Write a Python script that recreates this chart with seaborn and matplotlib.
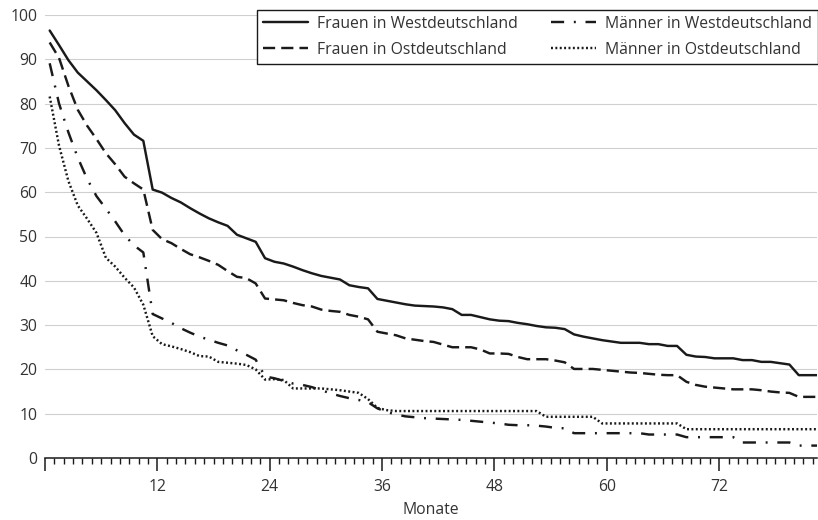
import numpy as np
import pandas as pd
import matplotlib
matplotlib.use("Agg")
import matplotlib.pyplot as plt
import seaborn as sns
from matplotlib.ticker import MultipleLocator, FuncFormatter

# Monatsindex (1..83); Werte gelten jeweils für die Monatsmitte
monate = list(range(1, 84))

gruppen = ["Frauen in Westdeutschland", "Frauen in Ostdeutschland",
           "Männer in Westdeutschland", "Männer in Ostdeutschland"]

frauen_west = [96.5, 93.2, 89.8, 87.0, 85.0, 83.0, 80.8, 78.5, 75.6, 73.0,
               71.6, 60.6, 59.9, 58.7, 57.7, 56.4, 55.2, 54.1, 53.2, 52.4,
               50.4, 49.6, 48.8, 45.1, 44.3, 43.9, 43.2, 42.4, 41.7, 41.1,
               40.7, 40.3, 39.0, 38.6, 38.3, 35.9, 35.5, 35.1, 34.7, 34.4,
               34.3, 34.2, 34.0, 33.6, 32.3, 32.3, 31.8, 31.3, 31.0, 30.9,
               30.5, 30.2, 29.8, 29.5, 29.4, 29.1, 27.9, 27.4, 27.0, 26.6,
               26.3, 26.0, 26.0, 26.0, 25.7, 25.7, 25.3, 25.3, 23.3, 22.9,
               22.8, 22.5, 22.5, 22.5, 22.1, 22.1, 21.7, 21.7, 21.4, 21.1,
               18.7, 18.7, 18.7]

frauen_ost = [93.8, 90.3, 84.0, 78.6, 75.0, 72.0, 68.8, 66.3, 63.5, 62.0,
              60.6, 51.5, 49.4, 48.5, 47.2, 46.0, 45.3, 44.5, 43.6, 42.2,
              40.9, 40.6, 39.4, 36.0, 35.8, 35.6, 35.0, 34.5, 34.2, 33.5,
              33.2, 33.0, 32.3, 31.9, 31.3, 28.5, 28.1, 27.7, 27.0, 26.7,
              26.4, 26.2, 25.6, 25.0, 25.0, 25.0, 24.5, 23.6, 23.6, 23.5,
              22.8, 22.3, 22.3, 22.3, 22.0, 21.6, 20.1, 20.1, 20.1, 19.9,
              19.7, 19.5, 19.3, 19.2, 19.0, 18.8, 18.7, 18.7, 17.2, 16.5,
              16.1, 15.9, 15.7, 15.5, 15.5, 15.5, 15.3, 15.0, 14.8, 14.7,
              13.8, 13.8, 13.8]

maenner_west = [89.1, 80.0, 73.5, 67.8, 63.0, 59.1, 56.3, 53.4, 50.3, 48.0,
                46.4, 32.5, 31.5, 30.5, 29.3, 28.3, 27.4, 26.7, 26.0, 25.4,
                24.3, 23.3, 22.2, 18.4, 18.0, 17.4, 16.8, 16.5, 16.0, 15.3,
                14.6, 14.0, 13.5, 13.1, 12.6, 11.2, 10.4, 9.8, 9.4, 9.2,
                9.0, 8.9, 8.8, 8.7, 8.6, 8.4, 8.2, 8.0, 7.8, 7.5,
                7.4, 7.4, 7.3, 7.1, 6.8, 6.7, 5.6, 5.6, 5.6, 5.6,
                5.6, 5.6, 5.6, 5.6, 5.3, 5.3, 5.3, 5.3, 4.7, 4.7,
                4.7, 4.7, 4.7, 4.7, 3.5, 3.5, 3.5, 3.5, 3.5, 3.5,
                2.8, 2.8, 2.8]

maenner_ost = [81.6, 70.5, 62.5, 57.0, 54.0, 50.8, 45.2, 43.2, 40.7, 38.5,
               34.6, 27.5, 25.7, 25.2, 24.6, 23.9, 23.0, 22.9, 21.7, 21.5,
               21.3, 21.0, 20.0, 17.7, 17.8, 17.6, 15.7, 15.7, 15.7, 15.7,
               15.5, 15.3, 15.0, 14.7, 13.3, 11.3, 10.8, 10.6, 10.6, 10.6,
               10.6, 10.6, 10.6, 10.6, 10.6, 10.6, 10.6, 10.6, 10.6, 10.6,
               10.6, 10.6, 10.6, 9.3, 9.3, 9.3, 9.3, 9.3, 9.3, 7.8,
               7.8, 7.8, 7.8, 7.8, 7.8, 7.8, 7.8, 7.8, 6.5, 6.5,
               6.5, 6.5, 6.5, 6.5, 6.5, 6.5, 6.5, 6.5, 6.5, 6.5,
               6.5, 6.5, 6.5]

x_ticks = [0, 12, 24, 36, 48, 60, 72]
y_ticks = [0, 10, 20, 30, 40, 50, 60, 70, 80, 90, 100]

sns.set_theme(style="white")
plt.rcParams['font.family'] = ['Open Sans', 'DejaVu Sans']
plt.rcParams['legend.fancybox'] = False

rows = []
for g, vals in zip(gruppen, [frauen_west, frauen_ost, maenner_west, maenner_ost]):
    for m, v in zip(monate, vals):
        rows.append({"Monat": m - 0.5, "Anteil": v, "Gruppe": g})
df = pd.DataFrame(rows)

W, H = 818, 520
fig = plt.figure(figsize=(W / 100, H / 100), dpi=100)
ax = fig.add_axes([45 / W, 1 - 458 / H, (817.5 - 45) / W, (458 - 15) / H])

dash_map = {gruppen[0]: "",
            gruppen[1]: (5.0, 2.5),
            gruppen[2]: (5.4, 4.0, 0.8, 4.0),
            gruppen[3]: (0.8, 1.0)}

line_color = "#1a1a1a"
text_color = "#333333"
fs = 11.3

sns.lineplot(data=df, x="Monat", y="Anteil", style="Gruppe", style_order=gruppen,
             dashes=dash_map, color=line_color, linewidth=1.75, ax=ax, legend=False)

ax.set_xlim(0, 82.5)
ax.set_ylim(0, 100)
ax.set_xticks(x_ticks)
ax.xaxis.set_minor_locator(MultipleLocator(1))
ax.xaxis.set_major_formatter(FuncFormatter(lambda v, p: "" if v == 0 else f"{int(v)}"))
ax.set_yticks(y_ticks)
ax.set_yticklabels([str(t) for t in y_ticks])

ax.tick_params(axis='x', which='both', bottom=True)
ax.tick_params(axis='x', which='major', direction='out', length=9.4, width=1.1,
               color=line_color, pad=6.0, labelsize=fs, labelcolor=text_color)
ax.tick_params(axis='x', which='minor', direction='out', length=4.2, width=1.0,
               color=line_color)
ax.tick_params(axis='y', left=False, length=0, pad=5.5, labelsize=fs, labelcolor=text_color)

ax.grid(False)
ax.yaxis.grid(True, color="#cfcfcf", linewidth=0.8)
ax.set_axisbelow(True)
for s in ["top", "right", "left"]:
    ax.spines[s].set_visible(False)
ax.spines["bottom"].set_color(line_color)
ax.spines["bottom"].set_linewidth(1.1)

ax.set_xlabel("Monate", fontsize=fs, color=text_color, labelpad=5)
ax.set_ylabel("")

leg = ax.legend(handles=ax.lines[:4], labels=gruppen, loc="upper right",
                bbox_to_anchor=(1.0, 1 - 9.5 / H), bbox_transform=fig.transFigure,
                ncol=2, frameon=True, fontsize=fs, handlelength=2.9,
                handletextpad=0.55, columnspacing=2.1, borderaxespad=0,
                labelspacing=0.64, borderpad=0.4)
for t in leg.get_texts():
    t.set_color(text_color)
frame = leg.get_frame()
frame.set_edgecolor(line_color)
frame.set_linewidth(1.0)
frame.set_facecolor("white")
frame.set_alpha(1.0)

fig.savefig("out.png", dpi=100)
